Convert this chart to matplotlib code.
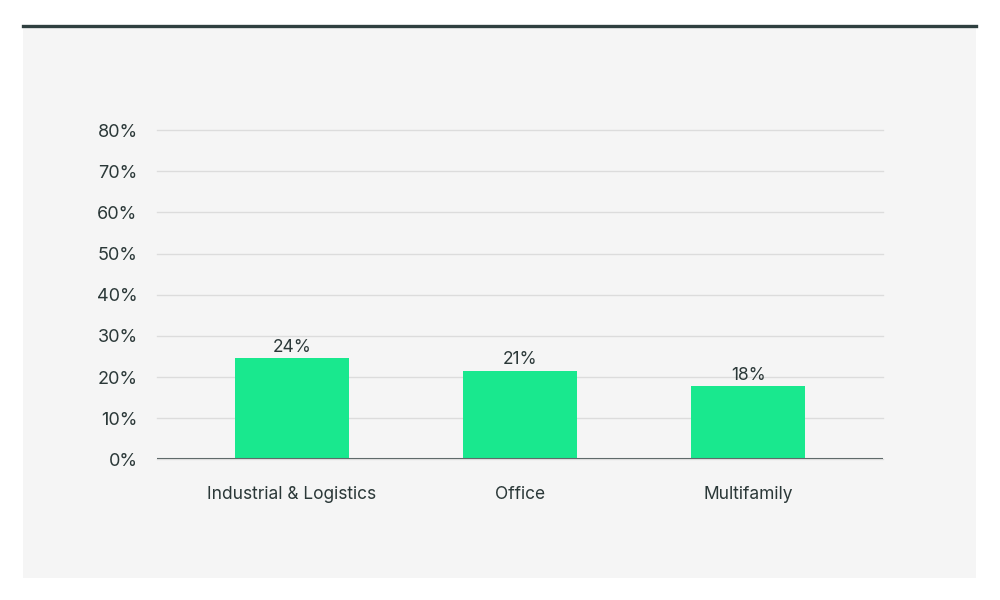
import numpy as np
import matplotlib.pyplot as plt
from matplotlib.patches import Rectangle
from matplotlib.lines import Line2D

plt.rcParams['font.family'] = ['Inter', 'DejaVu Sans']

# data
categories = ['Industrial & Logistics', 'Office', 'Multifamily']
values = [24.6, 21.6, 17.8]
value_labels = ['24%', '21%', '18%']
yticks = [0, 10, 20, 30, 40, 50, 60, 70, 80]

text_col = '#2b3838'
bar_col = '#19e88e'

fig = plt.figure(figsize=(10, 6), dpi=100)
fig.patch.set_facecolor('white')

# grey panel with dark rule on top
fig.patches.append(Rectangle((0.023, 0.036), 0.953, 0.920, transform=fig.transFigure,
                             facecolor='#f5f5f5', edgecolor='none', zorder=-2))
fig.lines.append(Line2D([0.023, 0.976], [0.957, 0.957], transform=fig.transFigure,
                        color='#2f4040', linewidth=2.4, zorder=-1))

ax = fig.add_axes([0.157, 0.2342, 0.726, 0.549])
ax.set_facecolor('none')
ax.set_zorder(2)

x = np.arange(len(categories))
bars = ax.bar(x, values, width=0.5, color=bar_col, zorder=3)

for b, lab in zip(bars, value_labels):
    ax.annotate(lab, (b.get_x() + b.get_width() / 2, b.get_height()),
                xytext=(0, 1.5), textcoords='offset points',
                ha='center', va='bottom', fontsize=12.5, color=text_col)

ax.set_xlim(-0.59, 2.59)
ax.set_ylim(0, 80)
ax.set_yticks(yticks)
ax.set_yticklabels([f'{t}%' for t in yticks])
ax.set_xticks(x)
ax.set_xticklabels(categories)

ax.grid(axis='y', color='#dcdcdc', linewidth=1, zorder=0)
ax.axhline(0, color='#5f6a6a', linewidth=1.5, zorder=4)
for s in ax.spines.values():
    s.set_visible(False)

ax.tick_params(axis='y', length=0, pad=14, labelsize=13, labelcolor=text_col)
ax.tick_params(axis='x', length=0, pad=19, labelsize=12.5, labelcolor=text_col)

for gl in ax.get_ygridlines():
    gl.set_clip_on(False)

fig.savefig('out.png', dpi=100)
